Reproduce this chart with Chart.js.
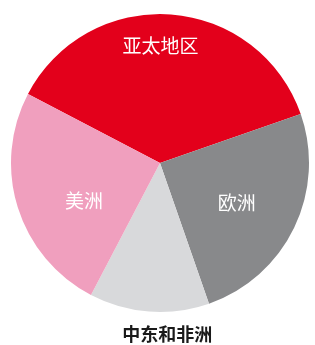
<!DOCTYPE html>
<html>
<head>
<meta charset="utf-8">
<script src="https://cdn.jsdelivr.net/npm/chart.js@4/dist/chart.umd.min.js"></script>
<style>
  html, body { margin: 0; padding: 0; background: #fff; }
  #wrap { width: 315px; height: 345px; position: relative; }
</style>
</head>
<body>
<div id="wrap"><canvas id="pie"></canvas></div>
<script>
// dados do grafico
const regioes = ["亚太地区", "欧洲", "中东和非洲", "美洲"];
const valores = [37, 25, 13, 25];
const cores = ["#e3001b", "#88898b", "#d8d9db", "#f09fbe"];
const corTexto = ["#ffffff", "#ffffff", "#1a1a1a", "#ffffff"];
const distTexto = [0.79, 0.58, 1.15, 0.57];
const desvioAngulo = [-4, 1.5, -6.6, -9]; // graus

// plugin simples para escrever os rotulos
const rotulos = {
  id: "rotulos",
  afterDatasetsDraw(chart) {
    const ctx = chart.ctx;
    const arcs = chart.getDatasetMeta(0).data;
    ctx.save();
    ctx.textAlign = "center";
    ctx.textBaseline = "middle";
    arcs.forEach((arc, i) => {
      const meio = (arc.startAngle + arc.endAngle) / 2 + desvioAngulo[i] * Math.PI / 180;
      const r = arc.outerRadius * distTexto[i];
      const x = arc.x + Math.cos(meio) * r;
      const y = arc.y + Math.sin(meio) * r;
      ctx.font = i === 2 ? "bold 18px 'Noto Sans CJK SC'" : "19px 'Noto Sans CJK SC'";
      ctx.fillStyle = corTexto[i];
      ctx.fillText(regioes[i], x, y);
    });
    ctx.restore();
  },
};

const ctx = document.getElementById("pie");

const grafico = new Chart(ctx, {
  type: "pie",
  data: {
    labels: regioes,
    datasets: [
      {
        data: valores,
        backgroundColor: cores,
        borderWidth: 0,
      },
    ],
  },
  options: {
    responsive: true,
    maintainAspectRatio: false,
    animation: false,
    rotation: -62.4,
    layout: { padding: { top: 14, bottom: 33, left: 11, right: 6 } },
    plugins: {
      legend: { display: false },
      tooltip: { enabled: false },
    },
  },
  plugins: [rotulos],
});
</script>
</body>
</html>
